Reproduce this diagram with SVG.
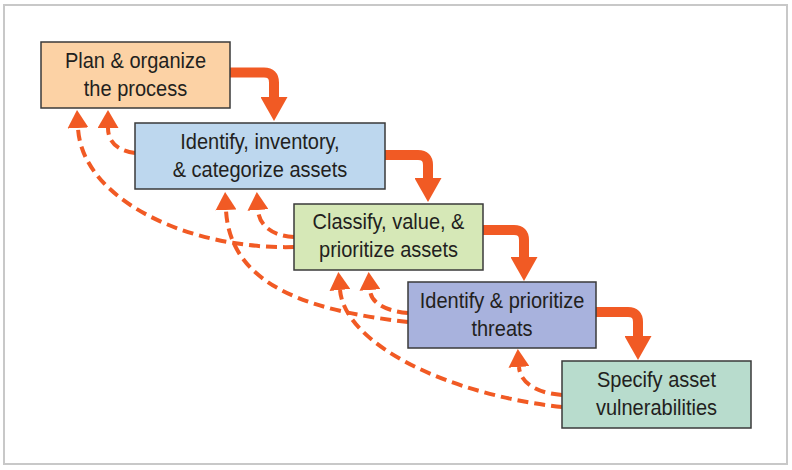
<svg xmlns="http://www.w3.org/2000/svg" width="792" height="470" viewBox="0 0 792 470">
<style>
.box{stroke:#3a3a3a;stroke-width:1.5}
.lbl{font-family:"Liberation Sans",Arial,sans-serif;font-size:22px;fill:#231f20;text-anchor:middle}
.flow{fill:none;stroke:#f15a24;stroke-width:10}
.ret{fill:none;stroke:#f15a24;stroke-width:4;stroke-dasharray:11 6}
</style>
<defs>
<marker id="headSolid" markerUnits="userSpaceOnUse" markerWidth="24" markerHeight="27" viewBox="0 0 24 27" refX="0" refY="13.5" orient="auto">
<path d="M0,0 L24,13.5 L0,27 z" fill="#f15a24"/>
</marker>
<marker id="headDash" markerUnits="userSpaceOnUse" markerWidth="18" markerHeight="21" viewBox="0 0 18 21" refX="0" refY="10.5" orient="auto">
<path d="M0,0 L18,10.5 L0,21 z" fill="#f15a24"/>
</marker>
</defs>
<rect x="0" y="0" width="792" height="470" fill="#ffffff"/>
<rect x="4" y="5" width="783" height="459" fill="#ffffff" stroke="#c8c8c8" stroke-width="2"/>

<g id="connectors">
<path class="flow" d="M230,72.5 H264 Q274,72.5 274,82.5 V97" marker-end="url(#headSolid)"/>
<path class="flow" d="M385,155 H418 Q428,155 428,165 V178" marker-end="url(#headSolid)"/>
<path class="flow" d="M483,230 H514 Q524,230 524,240 V257" marker-end="url(#headSolid)"/>
<path class="flow" d="M596,312 H628 Q638,312 638,322 V336" marker-end="url(#headSolid)"/>

<path class="ret" d="M135,153 C118,151 108,142 108,128" marker-end="url(#headDash)"/>
<path class="ret" d="M294,247 C190,250 82,200 78,128" marker-end="url(#headDash)"/>
<path class="ret" d="M294,237 C272,236 259,225 258,210" marker-end="url(#headDash)"/>
<path class="ret" d="M408,322 C320,312 230,290 226,210" marker-end="url(#headDash)"/>
<path class="ret" d="M408,313 C385,311 371,303 370,290" marker-end="url(#headDash)"/>
<path class="ret" d="M562,407 C450,395 345,345 340,290" marker-end="url(#headDash)"/>
<path class="ret" d="M562,395 C535,393 520,382 519,367" marker-end="url(#headDash)"/>
</g>

<g id="plan">
<rect class="box" x="41" y="42" width="189" height="66" fill="#fcd2a5"/>
<text class="lbl" transform="translate(135.5,0) scale(0.91,1)" x="0" y="68">Plan &amp; organize</text>
<text class="lbl" transform="translate(135.5,0) scale(0.91,1)" x="0" y="96">the process</text>
</g>
<g id="identify-assets">
<rect class="box" x="135" y="123" width="250" height="66" fill="#bdd7ee"/>
<text class="lbl" transform="translate(260,0) scale(0.91,1)" x="0" y="149">Identify, inventory,</text>
<text class="lbl" transform="translate(260,0) scale(0.91,1)" x="0" y="177">&amp; categorize assets</text>
</g>
<g id="classify">
<rect class="box" x="294" y="204" width="189" height="66" fill="#d6e8b7"/>
<text class="lbl" transform="translate(388.5,0) scale(0.91,1)" x="0" y="229">Classify, value, &amp;</text>
<text class="lbl" transform="translate(388.5,0) scale(0.91,1)" x="0" y="257">prioritize assets</text>
</g>
<g id="threats">
<rect class="box" x="408" y="282" width="188" height="66" fill="#a8b2dd"/>
<text class="lbl" transform="translate(502,0) scale(0.91,1)" x="0" y="308">Identify &amp; prioritize</text>
<text class="lbl" transform="translate(502,0) scale(0.91,1)" x="0" y="336">threats</text>
</g>
<g id="vulnerabilities">
<rect class="box" x="562" y="361" width="189" height="67" fill="#b8dccd"/>
<text class="lbl" transform="translate(656.5,0) scale(0.91,1)" x="0" y="387">Specify asset</text>
<text class="lbl" transform="translate(656.5,0) scale(0.91,1)" x="0" y="415">vulnerabilities</text>
</g>
</svg>
